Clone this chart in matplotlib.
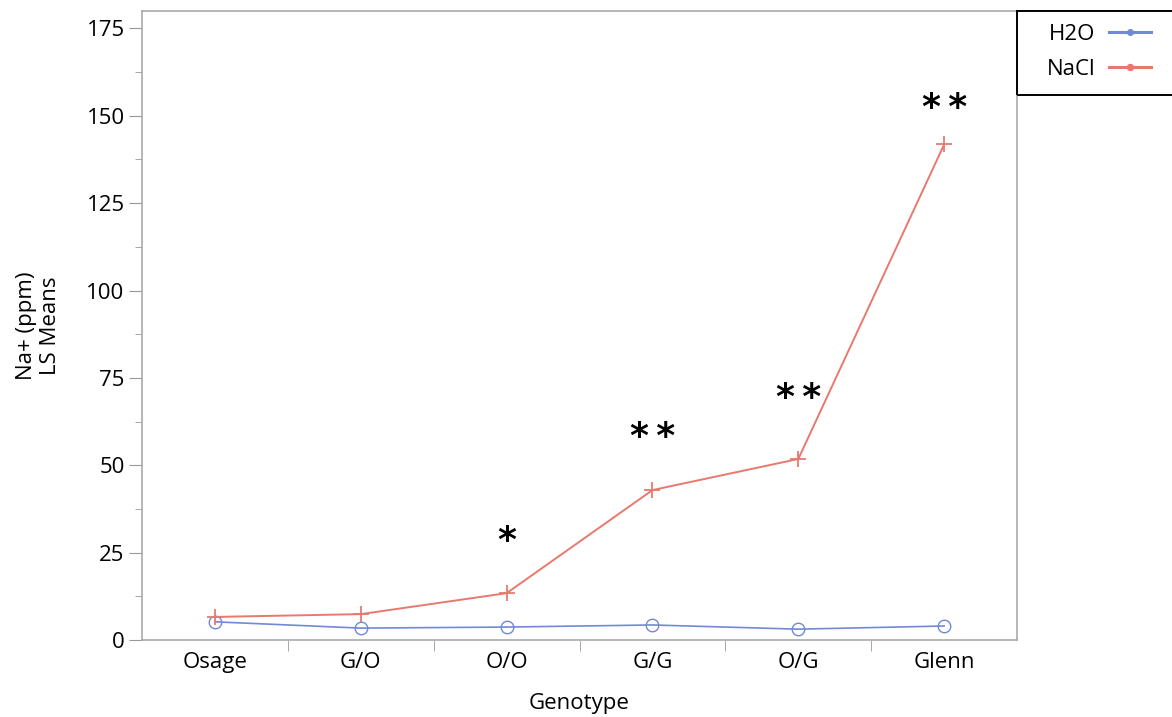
import matplotlib.pyplot as plt
from matplotlib.patches import Rectangle
from matplotlib.ticker import MultipleLocator

# data
genotypes = ["Osage", "G/O", "O/O", "G/G", "O/G", "Glenn"]
h2o = [5.2, 3.4, 3.7, 4.3, 3.1, 4.0]
nacl = [6.6, 7.4, 13.4, 42.9, 51.8, 141.8]
stars = ["", "", "*", "*\u2009*", "*\u2009*", "*\u2009*"]
star_y = [0, 0, 28.3, 58.2, 69.3, 152.2]

blue = "#7189d6"
red = "#e8796e"

plt.rcParams["font.family"] = ["Open Sans", "DejaVu Sans"]

fig = plt.figure(figsize=(11.72, 7.17), dpi=100)
ax = fig.add_axes([0.1212, 0.1074, 0.7466, 0.8773])

x = list(range(len(genotypes)))
ax.plot(x, h2o, color=blue, lw=1.2, marker="o", ms=9, mfc="none", mec=blue,
        mew=1.0, label="H2O")
ax.plot(x, nacl, color=red, lw=1.4, marker="+", ms=12, mew=1.3, label="NaCl")

# significance stars above NaCl points
for xi, yi, s in zip(x, star_y, stars):
    if s:
        ax.text(xi, yi, s, ha="center", va="center", fontsize=26,
                fontweight="bold", color="black", family="DejaVu Sans")

ax.set_xlim(-0.5, 5.5)
ax.set_ylim(0, 180)
ax.set_xticks(x)
ax.set_xticklabels(genotypes)
ax.set_xticks([i + 0.5 for i in range(5)], minor=True)
ax.tick_params(axis="x", which="major", length=0, pad=9, labelsize=16)
ax.tick_params(axis="x", which="minor", length=8, color="#999999")
ax.yaxis.set_major_locator(MultipleLocator(25))
ax.yaxis.set_minor_locator(MultipleLocator(12.5))
ax.tick_params(axis="y", which="major", length=9.5, pad=3, color="#999999",
               labelsize=16)
ax.tick_params(axis="y", which="minor", length=5, color="#999999")
for sp in ax.spines.values():
    sp.set_color("#aaaaaa")
    sp.set_linewidth(1.2)

ax.set_xlabel("Genotype", fontsize=16, labelpad=14)
ax.set_ylabel("Na+ (ppm)\nLS Means", fontsize=16, labelpad=18)

# legend frame drawn separately so it runs off the right edge like the original
fig.patches.append(Rectangle((1017 / 1172, 1 - 95 / 717), 0.2, 84 / 717,
                             transform=fig.transFigure, fill=False,
                             edgecolor="black", linewidth=1.4))
leg = fig.legend(loc="upper left", bbox_to_anchor=(1047 / 1172, 1 - 24 / 717),
                 bbox_transform=fig.transFigure, markerfirst=False,
                 frameon=False, fontsize=16, handlelength=1.9,
                 handletextpad=0.6, borderpad=0, labelspacing=0.62,
                 borderaxespad=0)
for h in leg.legend_handles:
    h.set_marker("o")
    h.set_markersize(4)
    h.set_linewidth(2.2)
    h.set_markerfacecolor(h.get_color())
    h.set_markeredgecolor(h.get_color())

fig.savefig("out.png", dpi=100)
